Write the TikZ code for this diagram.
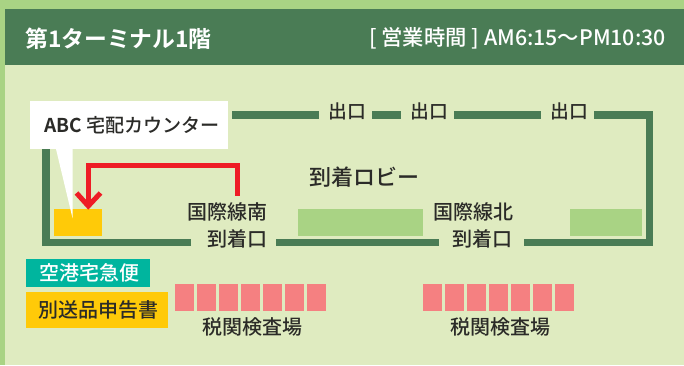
\documentclass[tikz,border=0pt]{standalone}
\usepackage{fontspec}
\setmainfont{Noto Sans CJK JP}
\newfontfamily\jpbold{Noto Sans CJK JP Bold}
\newfontfamily\jpmed{Noto Sans CJK JP Medium}
\definecolor{edgegreen}{HTML}{A9D384}
\definecolor{bodygreen}{HTML}{DFEBC0}
\definecolor{wallgreen}{HTML}{4A7C55}
\definecolor{inkdark}{HTML}{2B2B28}
\definecolor{amber}{HTML}{FFCA08}
\definecolor{redline}{HTML}{EE1C25}
\definecolor{pinkbox}{HTML}{F58081}
\definecolor{tealbox}{HTML}{00B59E}
\tikzset{
  x=0.75pt,y=-0.75pt,
  wall/.style={draw=wallgreen,line width=5.6pt,line cap=butt,miter limit=10},
  txt/.style={inner sep=0pt,text=inkdark,font=\fontsize{15}{18}\selectfont\jpmed},
  exitlabel/.style={txt,font=\fontsize{14.1}{16}\selectfont\jpmed},
  pinkcell/.style={fill=pinkbox,draw=none},
}
\begin{document}
\begin{tikzpicture}
\useasboundingbox (0,0) rectangle (684,365);
\fill[edgegreen] (0,0) rectangle (684,365);
\fill[bodygreen] (5,9) rectangle (684,365);
\fill[wallgreen] (5,9) rectangle (684,65);
\node[anchor=west,inner sep=0pt,text=white,font=\fontsize{17.1}{20}\selectfont\jpbold] (title) at (25,38.5) {第1ターミナル1階};
\node[anchor=east,inner sep=0pt,text=white,font=\fontsize{16}{18}\selectfont\jpmed] (hours) at (666,38.5) {[ 営業時間 ] AM6:15～PM10:30};
% walls
\draw[wall] (232,115) -- (319,115);
\draw[wall] (372,115) -- (401,115);
\draw[wall] (454,115) -- (541,115);
\draw[wall] (594,115) -- (649.6,115) -- (649.6,242.5) -- (524,242.5);
\draw[wall] (276,242.5) -- (439,242.5);
\draw[wall] (191,242.5) -- (46,242.5) -- (46,140);
% exit labels
\node[exitlabel] (exitA) at (347.5,111.5) {出口};
\node[exitlabel] (exitB) at (429,111.5) {出口};
\node[exitlabel] (exitC) at (569,111.5) {出口};
% areas
\fill[amber] (54,209) rectangle (102,236);
\fill[edgegreen] (298,209) rectangle (423,236);
\fill[edgegreen] (570,209) rectangle (642,236);
% callout
\fill[white] (30,101) rectangle (228,149);
\fill[white] (56,149) -- (72.5,149) -- (72.5,218) -- cycle;
\node[anchor=west,inner sep=0pt,text=inkdark,font=\fontsize{14.3}{16}\selectfont\jpmed] (counter) at (44,125) {{\jpbold ABC} 宅配カウンター};
% red route
\draw[redline,line width=3.75pt,line cap=butt,miter limit=10] (237.3,195.7) -- (237.3,165.7) -- (88.3,165.7) -- (88.3,205);
\draw[redline,line width=3.75pt,line cap=butt,miter limit=10] (76.5,193) -- (88.3,206) -- (100.5,193);
% labels
\node[txt] (lobby) at (364,177) {\fontsize{16.5}{20}\selectfont 到着ロビー};
\node[txt] (southA) at (227.5,212) {国際線南};
\node[txt] (southB) at (237.5,239) {到着口};
\node[txt] (northA) at (473,212) {国際線北};
\node[txt] (northB) at (482.5,239) {到着口};
% customs
\foreach \i in {0,...,6} {
  \fill[pinkcell] (175+22*\i,284) rectangle +(19,27);
  \fill[pinkcell] (423+22.05*\i,284) rectangle +(19,27);
}
\node[txt] (customsA) at (252,327) {税関検査場};
\node[txt] (customsB) at (500,327) {税関検査場};
% legend
\fill[tealbox] (26,259) rectangle (150,287);
\node[inner sep=0pt,text=white,font=\fontsize{15}{18}\selectfont\jpmed] (legendA) at (89,273) {空港宅急便};
\fill[amber] (26,292) rectangle (168,328);
\node[txt] (legendB) at (98,310) {別送品申告書};
\end{tikzpicture}
\end{document}
